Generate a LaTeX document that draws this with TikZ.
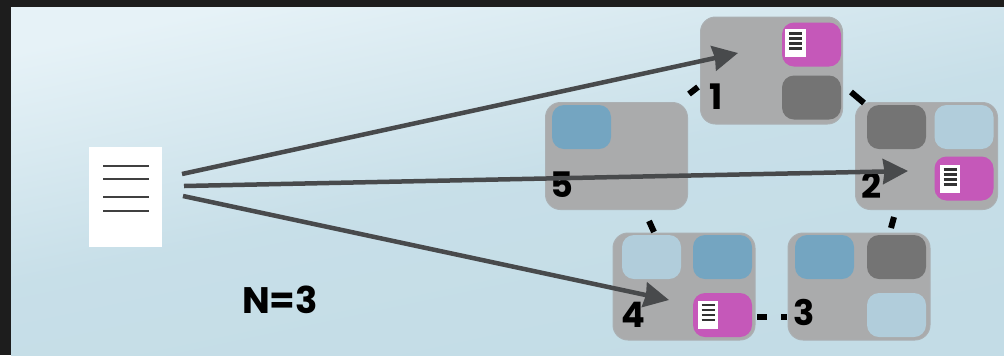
\documentclass[tikz,border=0pt]{standalone}
\usepackage{xcolor}
\usepackage{fontspec}
\setmainfont{Poppins}
\usetikzlibrary{arrows.meta, calc}

\definecolor{panelTop}{HTML}{E6F2F7}
\definecolor{panelBot}{HTML}{C3DCE6}
\definecolor{outerDark}{HTML}{1D1D1D}
\definecolor{ringGrey}{HTML}{AAABAC}
\definecolor{slotPink}{HTML}{C558B9}
\definecolor{slotBlue}{HTML}{74A5C1}
\definecolor{slotPale}{HTML}{B1CDDB}
\definecolor{slotDark}{HTML}{747474}
\definecolor{arrowGrey}{HTML}{484A4C}

\tikzset{
  ringbox/.style={draw=ringGrey!85!slotPale, line width=.2mm, fill=ringGrey, rounded corners=3mm,
    minimum width=28.4mm, minimum height=21.4mm, inner sep=0pt, outer sep=0pt},
  slot/.style={rounded corners=2.4mm, minimum width=11.8mm, minimum height=8.8mm, inner sep=0pt, outer sep=0pt},
  pinkslot/.style={slot, fill=slotPink},
  blueslot/.style={slot, fill=slotBlue},
  paleslot/.style={slot, fill=slotPale},
  darkslot/.style={slot, fill=slotDark},
  paper/.style={fill=white, minimum width=4.1mm, minimum height=5.6mm, inner sep=0pt, outer sep=0pt},
  ringnum/.style={font=\fontsize{20}{20}\selectfont\bfseries, inner sep=0pt, text=black},
  ringlink/.style={line width=1.2mm, black},
  writeto/.style={-{Stealth[length=5mm, width=5mm, inset=.3mm]}, line width=.9mm, arrowGrey},
}

\begin{document}
\begin{tikzpicture}[x=.2mm, y=-.2mm]
\useasboundingbox (0,0) rectangle (1004,355);
\fill[outerDark] (0,0) rectangle (1004,355);
\fill[top color=panelTop, bottom color=panelBot, middle color=panelBot!88!panelTop, shading angle=12] (11,7) rectangle (1004,355);

% ring of five boxes
\foreach \name/\x/\y in {ringA/771.5/70.5, ringB/926.5/156, ringC/859/286.5, ringD/684/286.5, ringE/616.5/156}
  \node[ringbox] (\name) at (\x,\y) {};

% slots inside the boxes
\foreach \name/\x/\y/\kind in {
  slotAa/811.5/44.5/pinkslot, slotAb/811.5/97.5/darkslot,
  slotBa/896.5/127/darkslot, slotBb/964/127/paleslot, slotBc/964/178.5/pinkslot,
  slotCa/824.5/257/blueslot, slotCb/896.5/257/darkslot, slotCc/896.5/315/paleslot,
  slotDa/651.5/257/paleslot, slotDb/722.5/257/blueslot, slotDc/722.5/315/pinkslot,
  slotEa/581.5/127/blueslot}
  \node[\kind] (\name) at (\x,\y) {};

% small papers in the pink slots
\foreach \name/\x/\y in {paperA/795.5/43, paperB/950/179, paperD/708/314.5} {
  \node[paper] (\name) at (\x,\y) {};
  \foreach \dy in {-7.5,-2.5,2.5,7.5}
    \draw[line width=.5mm, black!80] ($(\name)+(-6.5,\dy-2)$) -- ++(13,0);
}

% numbers
\node[ringnum] (numA) at (716,97) {1};
\node[ringnum] (numB) at (872,185) {2};
\node[ringnum] (numC) at (804,312) {3};
\node[ringnum] (numD) at (633,315) {4};
\node[ringnum] (numE) at (562,185) {5};

% stubs of the ring
\coordinate (stubAa) at (689,94);
\coordinate (stubAb) at (698,87);
\coordinate (stubBa) at (851,92);
\coordinate (stubBb) at (864,103);
\coordinate (stubCa) at (894,217);
\coordinate (stubCb) at (891,228);
\coordinate (stubDa) at (649,221);
\coordinate (stubDb) at (654,232);
\coordinate (stubEa) at (757,317);
\coordinate (stubEb) at (767,317);
\coordinate (stubFa) at (781,317);
\coordinate (stubFb) at (787,317);
\foreach \i in {A,B,C,D,E,F}
  \draw[ringlink] (stub\i a) -- (stub\i b);

% big document
\node[fill=white, minimum width=14.6mm, minimum height=20mm, inner sep=0pt, outer sep=0pt] (doc) at (125.5,197) {};
\foreach \y in {166,179,197,211}
  \draw[line width=.4mm, black!75] (103,\y) -- (149,\y);

\node[font=\fontsize{21}{21}\selectfont\bfseries, inner sep=0pt] (nlabel) at (280,300) {N=3};

% the three writes
\coordinate (fromA) at (182,174);
\coordinate (fromB) at (184,186);
\coordinate (fromD) at (183,196);
\coordinate (toA) at (738,53);
\coordinate (toB) at (908,171);
\coordinate (toD) at (669,300);
\draw[writeto] (fromA) -- (toA);
\draw[writeto] (fromB) -- (toB);
\draw[writeto] (fromD) -- (toD);
\end{tikzpicture}
\end{document}
